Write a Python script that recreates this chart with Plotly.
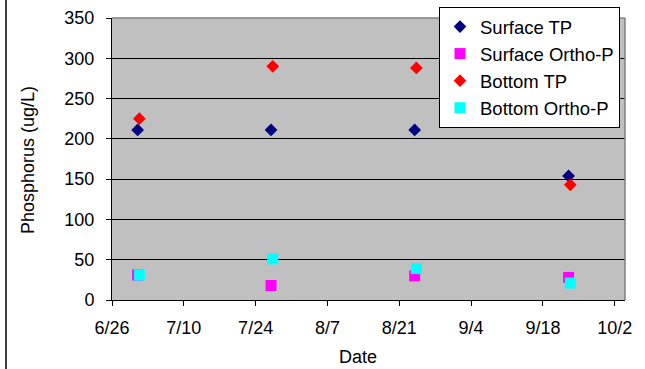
import plotly.graph_objects as go

# Sample dates (surface) and bottom samples taken a few hours later
surface_dates = ["2003-07-01 00:00", "2003-07-27 00:00", "2003-08-24 00:00", "2003-09-23 00:00"]
bottom_dates = ["2003-07-01 08:00", "2003-07-27 08:00", "2003-08-24 08:00", "2003-09-23 08:00"]

surface_tp = [211, 211, 211, 154]
surface_ortho = [31, 18, 30, 28]
bottom_tp = [225, 290, 288, 143]
bottom_ortho = [31, 51, 39, 21]

series = [
    ("Surface TP", surface_dates, surface_tp, "diamond", "#000080", 9.8),
    ("Surface Ortho-P", surface_dates, surface_ortho, "square", "#FF00FF", 11),
    ("Bottom TP", bottom_dates, bottom_tp, "diamond", "#FF0000", 9.8),
    ("Bottom Ortho-P", bottom_dates, bottom_ortho, "square", "#00FFFF", 11),
]

FONT = "Liberation Sans, Arial, sans-serif"
L, R, T, B = 112, 20, 18, 69
PW, PH = 645 - L - R, 369 - T - B


def px_x(x):
    return (x - L) / PW


def px_y(y):
    return (369 - B - y) / PH


fig = go.Figure()
for i, (name, xs, ys, sym, col, sz) in enumerate(series):
    fig.add_trace(go.Scatter(
        x=xs, y=ys, mode="markers", name=name, legendgroup=str(i),
        marker=dict(symbol=sym, color=col, size=sz, line=dict(width=0)),
    ))

fig.update_layout(
    width=645, height=369,
    margin=dict(l=L, r=R, t=T, b=B, autoexpand=False),
    paper_bgcolor="white",
    plot_bgcolor="#C0C0C0",
    font=dict(family=FONT, size=18, color="black"),
    showlegend=True,
    legend=dict(
        x=px_x(439), y=px_y(7), xanchor="left", yanchor="top",
        bgcolor="white", bordercolor="black", borderwidth=1,
        font=dict(family=FONT, size=18.5, color="black"),
        traceorder="grouped", tracegroupgap=0,
        itemwidth=30,
    ),
    xaxis=dict(
        type="date",
        range=["2003-06-26", "2003-10-04"],
        tick0="2003-06-26", dtick=14 * 86400000,
        tickformat="%-m/%-d",
        ticks="outside", ticklen=5, tickcolor="black",
        showline=True, linecolor="black", linewidth=1,
        showgrid=False, zeroline=False,
        ticklabelstandoff=6,
        tickfont=dict(size=18),
    ),
    yaxis=dict(
        range=[0, 350], dtick=50,
        ticks="outside", ticklen=5, tickcolor="black",
        showline=True, linecolor="black", linewidth=1,
        showgrid=True, gridcolor="black", gridwidth=1,
        zeroline=False,
        ticklabelstandoff=8,
        tickfont=dict(size=18),
    ),
    annotations=[
        dict(text="Phosphorus (ug/L)", textangle=-90, xref="paper", yref="paper",
             x=px_x(28), y=px_y(160), showarrow=False,
             font=dict(size=18), xanchor="center", yanchor="middle"),
        dict(text="Date", xref="paper", yref="paper",
             x=px_x(358), y=px_y(357), showarrow=False,
             font=dict(size=18), xanchor="center", yanchor="middle"),
    ],
    shapes=[
        # gray plot-area border (top and right)
        dict(type="line", xref="paper", yref="paper", x0=0, x1=1, y0=1, y1=1,
             line=dict(color="#808080", width=1.5)),
        dict(type="line", xref="paper", yref="paper", x0=1, x1=1, y0=0, y1=1,
             line=dict(color="#808080", width=1.5)),
        # outer chart border on the left
        dict(type="line", xref="paper", yref="paper",
             x0=px_x(6), x1=px_x(6), y0=px_y(369), y1=px_y(0),
             line=dict(color="black", width=1.5)),
    ],
)

fig.write_html("out.html", config={"displayModeBar": False},
               post_script="document.body.style.margin='0px';")
